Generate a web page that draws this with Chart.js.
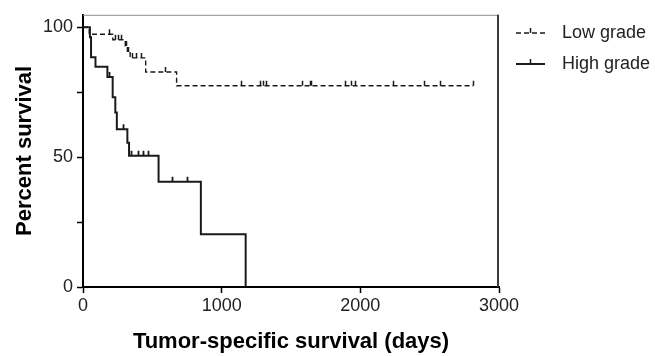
<!DOCTYPE html>
<html><head><meta charset="utf-8">
<script src="https://cdn.jsdelivr.net/npm/chart.js@4.4.1/dist/chart.umd.min.js"></script>
<style>html,body{margin:0;padding:0;background:#fff}</style>
</head><body>
<canvas id="c" width="655" height="356"></canvas>
<script>
const xTicks = [0, 1000, 2000, 3000];
const xLabels = ['0', '1000', '2000', '3000'];
const yTicks = [0, 25, 50, 75, 100];
const yLabels = ['0', '', '50', '', '100'];
const seriesNames = ['Low grade', 'High grade'];
const xTitle = 'Tumor-specific survival (days)';
const yTitle = 'Percent survival';

// Low grade (dashed) step curve
const lowTimes = [0, 45, 215, 305, 320, 340, 452, 675, 2815];
const lowSurv  = [100, 97.3, 95.2, 92.8, 90.5, 88.2, 82.8, 77.5, 77.5];
const lowCensorTimes = [187, 228, 250, 272, 312, 328, 355, 382, 420, 590, 1139, 1276, 1298, 1320, 1577, 1637, 1645, 1889, 1932, 1961, 2238, 2459, 2574, 2815];
const lowCensorSurv  = [97.3, 95.2, 95.2, 95.2, 92.8, 90.5, 88.2, 88.2, 88.2, 82.8, 77.5, 77.5, 77.5, 77.5, 77.5, 77.5, 77.5, 77.5, 77.5, 77.5, 77.5, 77.5, 77.5, 77.5];

// High grade (solid) step curve
const highTimes = [0, 50, 58, 90, 176, 214, 233, 244, 320, 332, 545, 850, 1173];
const highSurv  = [100, 96.2, 88.5, 84.8, 80.9, 73.1, 67.2, 60.7, 55.5, 50.5, 40.5, 20.3, 0];
const highCensorTimes = [190, 290, 346, 394, 430, 466, 644, 750];
const highCensorSurv  = [80.9, 60.7, 50.5, 50.5, 50.5, 50.5, 40.5, 40.5];

const FONT = 'Arial, "Liberation Sans", sans-serif';
const INK = '#1a1a1a';

const kmPlugin = {
  id: 'km',
  afterDatasetsDraw(chart) {
    const {ctx, scales: {x, y}, chartArea: a} = chart;
    ctx.save();
    ctx.strokeStyle = '#8c8c8c'; ctx.lineWidth = 1; ctx.setLineDash([]);
    ctx.beginPath(); ctx.moveTo(a.left, a.top + 0.5); ctx.lineTo(a.right, a.top + 0.5); ctx.stroke();
    ctx.strokeStyle = '#3a3a3a'; ctx.lineWidth = 2;
    ctx.beginPath(); ctx.moveTo(a.right - 1, a.top); ctx.lineTo(a.right - 1, a.bottom); ctx.stroke();
    function marks(ts, ss, w) {
      ctx.strokeStyle = INK; ctx.lineWidth = w; ctx.beginPath();
      ts.forEach((t, i) => {
        const px = Math.round(x.getPixelForValue(t)) + 0.5, py = y.getPixelForValue(ss[i]);
        ctx.moveTo(px, py); ctx.lineTo(px, py - 5);
      });
      ctx.stroke();
    }
    marks(lowCensorTimes, lowCensorSurv, 1.5);
    marks(highCensorTimes, highCensorSurv, 1.8);
    const items = [
      {name: seriesNames[0], dash: [5, 3], w: 1.4, yy: 33},
      {name: seriesNames[1], dash: [], w: 2, yy: 64}
    ];
    items.forEach(it => {
      ctx.strokeStyle = INK; ctx.lineWidth = it.w; ctx.setLineDash(it.dash);
      ctx.beginPath(); ctx.moveTo(516, it.yy); ctx.lineTo(545, it.yy); ctx.stroke();
      ctx.setLineDash([]); ctx.lineWidth = 1.5;
      ctx.beginPath(); ctx.moveTo(530.5, it.yy); ctx.lineTo(530.5, it.yy - 5); ctx.stroke();
      ctx.fillStyle = '#222'; ctx.font = '18px ' + FONT; ctx.textBaseline = 'middle'; ctx.textAlign = 'left';
      ctx.fillText(it.name, 562, it.yy);
    });
    ctx.restore();
  }
};

new Chart(document.getElementById('c'), {
  type: 'line',
  data: {
    datasets: [
      {label: seriesNames[0], data: lowTimes.map((t, i) => ({x: t, y: lowSurv[i]})), stepped: 'before',
       borderColor: INK, borderWidth: 1.4, borderDash: [5, 3], pointRadius: 0, fill: false},
      {label: seriesNames[1], data: highTimes.map((t, i) => ({x: t, y: highSurv[i]})), stepped: 'before',
       borderColor: INK, borderWidth: 2, pointRadius: 0, fill: false}
    ]
  },
  options: {
    responsive: false, animation: false, devicePixelRatio: 1,
    layout: {padding: {top: 12, right: 156, left: 0, bottom: 0}},
    plugins: {legend: {display: false}, tooltip: {enabled: false}},
    scales: {
      x: {
        type: 'linear', min: 0, max: 3000,
        afterBuildTicks: s => { s.ticks = xTicks.map(v => ({value: v})); },
        afterFit: s => { s.height = 69; },
        ticks: {color: '#222', font: {family: FONT, size: 18}, padding: 2, maxRotation: 0,
                callback: v => xLabels[xTicks.indexOf(v)]},
        grid: {drawOnChartArea: false, drawTicks: true, tickLength: 6, tickColor: '#000', tickWidth: 1.5},
        border: {display: true, color: '#000', width: 2},
        title: {display: true, text: xTitle, color: '#000', font: {family: FONT, size: 22, weight: 'bold'}, padding: {top: 0, bottom: 1}}
      },
      y: {
        type: 'linear', min: 0, max: 104.8,
        afterBuildTicks: s => { s.ticks = yTicks.map(v => ({value: v})); },
        afterFit: s => { s.width = 83; },
        ticks: {color: '#222', font: {family: FONT, size: 18}, padding: 4, callback: v => yLabels[yTicks.indexOf(v)]},
        grid: {drawOnChartArea: false, drawTicks: true, tickLength: 6, tickColor: '#000', tickWidth: 1.5},
        border: {display: true, color: '#000', width: 2},
        title: {display: true, text: yTitle, color: '#000', font: {family: FONT, size: 22, weight: 'bold'}, padding: {top: 12, bottom: 0}}
      }
    }
  },
  plugins: [kmPlugin]
});
</script>
</body></html>
